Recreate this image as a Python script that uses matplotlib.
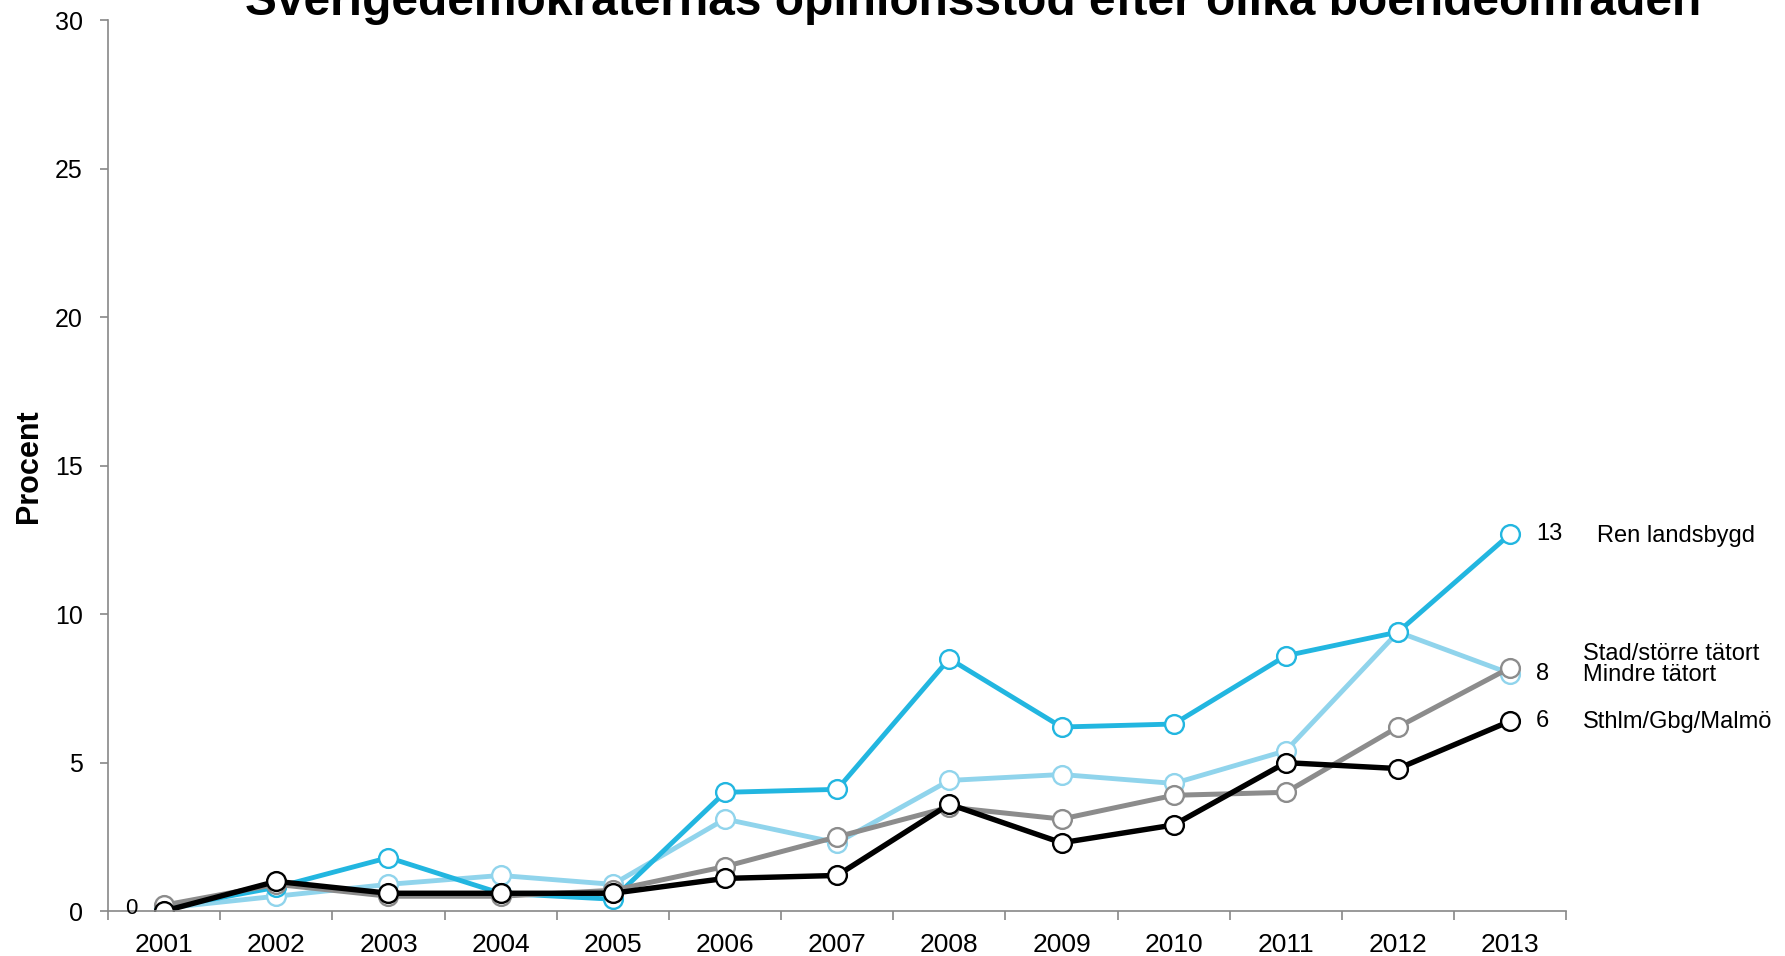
import numpy as np
import matplotlib.pyplot as plt

plt.rcParams['font.family'] = ['Liberation Sans', 'DejaVu Sans']

years = ["2001", "2002", "2003", "2004", "2005", "2006", "2007",
         "2008", "2009", "2010", "2011", "2012", "2013"]

ren_landsbygd = [0.1, 0.8, 1.8, 0.6, 0.4, 4.0, 4.1, 8.5, 6.2, 6.3, 8.6, 9.4, 12.7]
mindre_tatort = [0.1, 0.5, 0.9, 1.2, 0.9, 3.1, 2.3, 4.4, 4.6, 4.3, 5.4, 9.4, 8.0]
stad_tatort = [0.2, 0.9, 0.5, 0.5, 0.7, 1.5, 2.5, 3.5, 3.1, 3.9, 4.0, 6.2, 8.2]
sthlm = [0.0, 1.0, 0.6, 0.6, 0.6, 1.1, 1.2, 3.6, 2.3, 2.9, 5.0, 4.8, 6.4]

end_labels = ["13", "8", "6"]

x = np.arange(len(years))

fig = plt.figure(figsize=(17.85, 9.56), dpi=100)
ax = fig.add_axes([0.0605, 0.047, 0.817, 0.9316])

kw = dict(marker="o", ms=13.5, mfc="white", mew=1.7)
ax.plot(x, mindre_tatort, color="#90d4ec", mec="#90d4ec", lw=3.5, **kw)
ax.plot(x, ren_landsbygd, color="#22b6e0", mec="#22b6e0", lw=3.5, **kw)
ax.plot(x, stad_tatort, color="#8c8c8c", mec="#8c8c8c", lw=3.6, **kw)
ax.plot(x, sthlm, color="black", mec="black", lw=3.9, **kw)

ax.set_xlim(-0.5, 12.5)
ax.set_ylim(0, 30)
ax.set_yticks(np.arange(0, 31, 5))
ax.set_xticks(x)
ax.set_xticklabels(years)
ax.set_xticks(np.arange(-0.5, 12.6, 1), minor=True)
ax.tick_params(axis="x", which="major", length=0, pad=16, labelsize=19)
ax.tick_params(axis="x", which="minor", length=6.5, width=1.2, color="#888888", direction="out")
ax.tick_params(axis="y", length=6, width=1.2, color="#888888", pad=12, labelsize=18)

for s in ["top", "right"]:
    ax.spines[s].set_visible(False)
for s in ["left", "bottom"]:
    ax.spines[s].set_color("#888888")
    ax.spines[s].set_linewidth(1.2)

ax.set_ylabel("Procent", fontsize=22, fontweight="bold", labelpad=8)

# data labels
ax.text(-0.29, sthlm[0] + 0.1, "0", fontsize=16, ha="center", va="center")
ax.text(12.23, ren_landsbygd[-1], end_labels[0], fontsize=17, va="center")
ax.text(12.23, mindre_tatort[-1], end_labels[1], fontsize=17, va="center")
ax.text(12.23, sthlm[-1], end_labels[2], fontsize=17, va="center")

ax.text(12.77, ren_landsbygd[-1] - 0.05, "Ren landsbygd", fontsize=17, va="center", clip_on=False)
ax.text(12.65, 8.66, "Stad/större tätort", fontsize=17, va="center", clip_on=False)
ax.text(12.65, 7.96, "Mindre tätort", fontsize=17, va="center", clip_on=False)
ax.text(12.65, 6.36, "Sthlm/Gbg/Malmö", fontsize=17, va="center", clip_on=False)

fig.text(0.545, 1 - 15 / 956, "Sverigedemokraternas opinionsstöd efter olika boendeområden",
         fontsize=34.5, fontweight="bold", ha="center", va="baseline")

fig.savefig("out.png", dpi=100)
